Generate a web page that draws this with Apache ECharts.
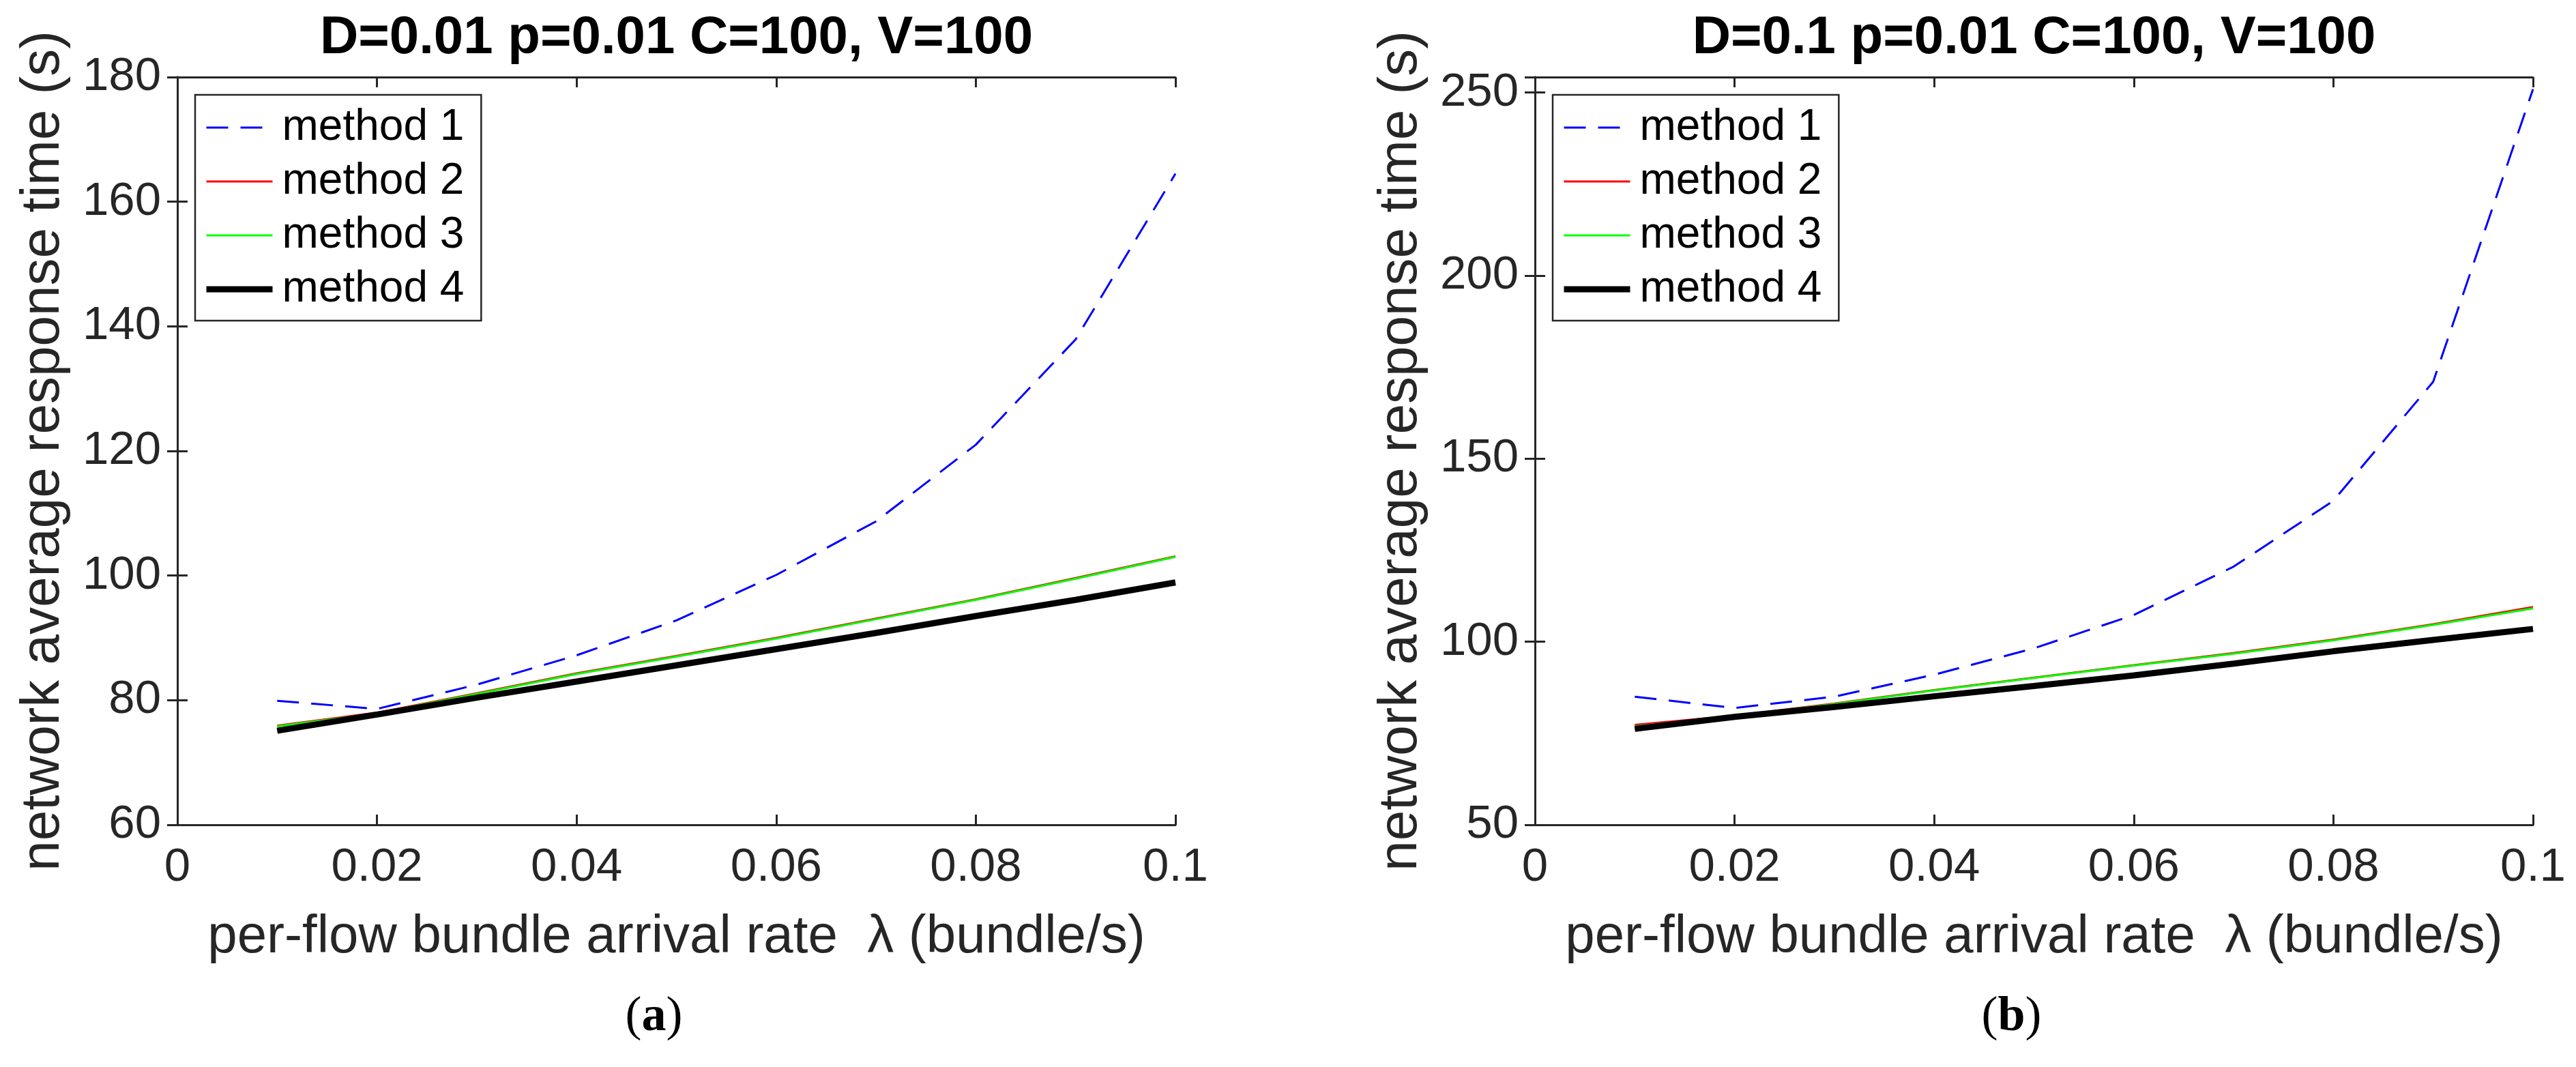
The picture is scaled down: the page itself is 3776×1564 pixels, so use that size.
<!DOCTYPE html>
<html>
<head>
<meta charset="utf-8">
<script src="https://cdn.jsdelivr.net/npm/echarts@6/dist/echarts.min.js"></script>
<style>
html,body{margin:0;padding:0;background:#fff;}
#chart{width:3776px;height:1564px;}
</style>
</head>
<body>
<div id="chart"></div>
<script>
// ---- data ----
const lambdaValues = [0.01, 0.02, 0.03, 0.04, 0.05, 0.06, 0.07, 0.08, 0.09, 0.10];
const seriesNames = ['method 1', 'method 2', 'method 3', 'method 4'];

// panel (a): D=0.01
const aMethod1 = [79.9, 78.6, 82.5, 87.2, 92.8, 100.1, 108.7, 121.0, 137.9, 164.5];
const aMethod2 = [75.9, 78.0, 81.1, 84.3, 87.1, 90.0, 93.1, 96.2, 99.6, 103.1];
const aMethod3 = [75.8, 77.9, 81.0, 84.2, 87.0, 89.9, 93.0, 96.1, 99.5, 103.0];
const aMethod4 = [75.1, 77.7, 80.4, 83.0, 85.6, 88.2, 90.8, 93.5, 96.1, 98.9];

// panel (b): D=0.1
const bMethod1 = [85.0, 81.9, 85.0, 91.0, 98.2, 107.3, 120.5, 138.5, 171.0, 250.9];
const bMethod2 = [77.3, 79.8, 83.1, 86.8, 90.2, 93.6, 96.9, 100.6, 104.8, 109.5];
const bMethod3 = [76.9, 79.7, 83.0, 86.7, 90.1, 93.5, 96.7, 100.4, 104.6, 109.1];
const bMethod4 = [76.2, 79.5, 82.2, 85.1, 87.9, 90.8, 94.0, 97.4, 100.5, 103.5];

const titles = ['D=0.01 p=0.01 C=100, V=100', 'D=0.1 p=0.01 C=100, V=100'];
const subCaptions = ['a', 'b'];
const xAxisTitle = 'per-flow bundle arrival rate  \u03bb (bundle/s)';
const yAxisTitle = 'network average response time (s)';
const xTicks = {min: 0, max: 0.1, interval: 0.02};
const yTicksA = {min: 60, max: 180, interval: 20};
const yTicksB = {min: 50, max: 254.2, interval: 50};

// ---- layout ----
const axisColor = '#262626';
const gridLefts = [260, 2250];
const gridTop = 113, gridW = 1463, gridH = 1096;
const font = 'Arial, "Liberation Sans", Helvetica, sans-serif';
const serif = '"Liberation Serif", "Times New Roman", serif';

function pairs(arr){ return lambdaValues.map((x,i)=>[x, arr[i]]); }

const chart = echarts.init(document.getElementById('chart'), null, {renderer:'canvas'});

const grids = gridLefts.map(l => ({left:l, top:gridTop, width:gridW, height:gridH, containLabel:false}));

function xAxisPair(gi){
  const base = {
    gridIndex: gi, type:'value', min:xTicks.min, max:xTicks.max, interval:xTicks.interval,
    axisLine:{show:true, lineStyle:{color:axisColor, width:3}},
    axisTick:{show:true, inside:true, length:15, lineStyle:{color:axisColor, width:3}},
    splitLine:{show:false}
  };
  return [
    Object.assign({}, base, {
      position:'bottom',
      axisLabel:{show:true, margin:28, color:axisColor, fontSize:69, fontFamily:font,
        formatter: v => String(+v.toFixed(2))},
      name: xAxisTitle, nameLocation:'middle', nameGap:126,
      nameTextStyle:{color:axisColor, fontSize:78, fontFamily:font}
    }),
    Object.assign({}, base, {position:'top', axisLabel:{show:false}})
  ];
}
function yAxisPair(gi, t){
  const base = {
    gridIndex: gi, type:'value', min:t.min, max:t.max, interval:t.interval,
    axisLine:{show:true, lineStyle:{color:axisColor, width:3}},
    axisTick:{show:true, inside:true, length:15, lineStyle:{color:axisColor, width:3}},
    splitLine:{show:false}
  };
  return [
    Object.assign({}, base, {
      position:'left',
      axisLabel:{show:true, margin:24, color:axisColor, fontSize:69, fontFamily:font, showMaxLabel: t.max % t.interval === 0},
      name: yAxisTitle, nameLocation:'middle', nameGap:156,
      nameTextStyle:{color:axisColor, fontSize:80, fontFamily:font}
    }),
    Object.assign({}, base, {position:'right', axisLabel:{show:false}})
  ];
}

const xAxes = [...xAxisPair(0), ...xAxisPair(1)];
const yAxes = [...yAxisPair(0, yTicksA), ...yAxisPair(1, yTicksB)];

const styles = [
  {color:'#0000ff', width:3, type:[32,18]},
  {color:'#ff0000', width:3, type:'solid'},
  {color:'#00ff00', width:3, type:'solid'},
  {color:'#000000', width:9, type:'solid'}
];
const panelData = [[aMethod1,aMethod2,aMethod3,aMethod4],[bMethod1,bMethod2,bMethod3,bMethod4]];

const series = [];
panelData.forEach((arrs, gi) => {
  arrs.forEach((arr, si) => {
    series.push({
      name: seriesNames[si], type:'line', xAxisIndex: gi*2, yAxisIndex: gi*2,
      data: pairs(arr), symbol:'none', showSymbol:false, smooth:false,
      lineStyle: {color: styles[si].color, width: styles[si].width, type: styles[si].type},
      itemStyle: {color: styles[si].color},
      animation:false, z: 2+si
    });
  });
});

const legends = gridLefts.map(l => ({
  data: seriesNames.map((n, si) => ({
    name: n,
    itemStyle: {opacity: 0},
    lineStyle: {color: styles[si].color, width: styles[si].width, type: styles[si].type}
  })),
  orient:'vertical', left: l+26, top:139,
  itemWidth:97, itemHeight:14, itemGap:15,
  padding:[16,25,14,12],
  backgroundColor:'#fff', borderColor:axisColor, borderWidth:2.5,
  itemStyle:{opacity:0},
  lineStyle:{width:'inherit'},
  textStyle:{color:'#000', fontSize:64, fontFamily:font, padding:[0,0,0,9]},
  selectedMode:false
}));

const titleComps = [];
gridLefts.forEach((l, i) => {
  titleComps.push({
    text: titles[i], left: l + gridW/2, top: 17, textAlign:'center', padding:0,
    textStyle:{color:'#000', fontSize:78, fontWeight:'bold', fontFamily:font}
  });
  titleComps.push({
    text: '{p|(}{b|' + subCaptions[i] + '}{p|)}', left: l + gridW/2 - 33, top: 1455, textAlign:'center', padding:0,
    textStyle:{fontWeight:'normal', rich:{
      p:{fontSize:72, fontWeight:'normal', fontFamily:serif, color:'#000'},
      b:{fontSize:72, fontWeight:'bold', fontFamily:serif, color:'#000'}
    }}
  });
});

chart.setOption({
  animation:false,
  backgroundColor:'#fff',
  title: titleComps,
  legend: legends,
  grid: grids,
  xAxis: xAxes,
  yAxis: yAxes,
  series: series
});
</script>
</body>
</html>
